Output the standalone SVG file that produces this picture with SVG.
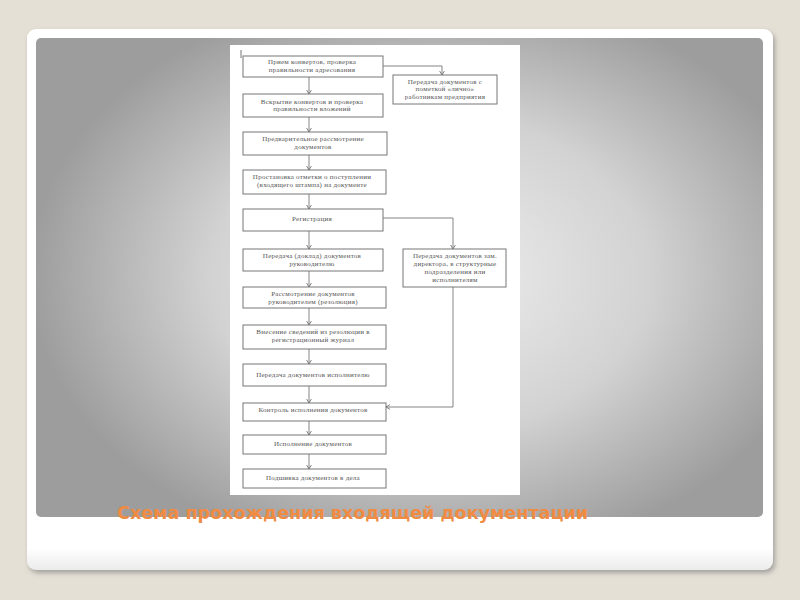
<svg xmlns="http://www.w3.org/2000/svg" width="800" height="600" viewBox="0 0 800 600">
<defs>
<radialGradient id="pg" gradientUnits="userSpaceOnUse" cx="0" cy="0" r="400" gradientTransform="translate(430,275) scale(1,0.72)">
<stop offset="0" stop-color="#efefef"/>
<stop offset="0.55" stop-color="#d2d2d2"/>
<stop offset="1" stop-color="#9d9d9d"/>
</radialGradient>
<linearGradient id="cg" x1="0" y1="0" x2="0" y2="1">
<stop offset="0" stop-color="#ffffff"/>
<stop offset="0.96" stop-color="#ffffff"/>
<stop offset="1" stop-color="#ebebeb"/>
</linearGradient>
<filter id="sh" x="-5%" y="-5%" width="110%" height="115%">
<feDropShadow dx="2" dy="3" stdDeviation="2.5" flood-color="#777" flood-opacity="0.6"/>
</filter>
<marker id="ah" markerUnits="userSpaceOnUse" markerWidth="6" markerHeight="6" refX="4.5" refY="3" orient="auto">
<path d="M0.5,0.6 L4.5,3 L0.5,5.4" fill="none" stroke="#666" stroke-width="0.8"/>
</marker>
<style>
.b{fill:#fff;stroke:#777;stroke-width:1}
.t{font-family:"Liberation Serif","DejaVu Serif",serif;font-size:7px;letter-spacing:0.25px;fill:#555;text-anchor:middle}
.c{fill:none;stroke:#777;stroke-width:0.9;marker-end:url(#ah)}
.title{font-family:"DejaVu Sans","Liberation Sans",sans-serif;font-weight:bold;font-size:17px;fill:#f08b43}
</style>
</defs>
<rect x="0" y="0" width="800" height="600" fill="#e5e0d6"/>
<rect x="27" y="29" width="746" height="541" rx="9" fill="url(#cg)" filter="url(#sh)"/>
<rect x="36" y="38" width="727" height="479" rx="5" fill="url(#pg)"/>
<rect x="230" y="45" width="290" height="450" fill="#ffffff"/>
<line x1="241" y1="50" x2="241" y2="58" stroke="#777" stroke-width="1"/>

<g id="connectors">
<path class="c" d="M309,77 V94"/>
<path class="c" d="M309,117 V132"/>
<path class="c" d="M309,155 V170"/>
<path class="c" d="M309,194 V209"/>
<path class="c" d="M309,231 V249"/>
<path class="c" d="M309,271 V287"/>
<path class="c" d="M309,308 V325"/>
<path class="c" d="M309,349 V364"/>
<path class="c" d="M309,386 V403"/>
<path class="c" d="M309,421 V435"/>
<path class="c" d="M309,454 V469"/>
<path class="c" d="M383,66 H442 V75"/>
<path class="c" d="M383,218 H453 V249"/>
<path class="c" d="M453,287 V407 H386"/>
</g>

<g id="n1"><rect class="b" x="243" y="56" width="140" height="21"/>
<text class="t" x="312" y="64">Прием конвертов, проверка</text>
<text class="t" x="312" y="71.8">правильности адресования</text></g>

<g id="n2"><rect class="b" x="393" y="75" width="104" height="29"/>
<text class="t" x="445" y="83.5">Передача документов с</text>
<text class="t" x="445" y="91.2">пометкой «лично»</text>
<text class="t" x="445" y="99">работникам предприятия</text></g>

<g id="n3"><rect class="b" x="243" y="94" width="140" height="23"/>
<text class="t" x="312" y="103.5">Вскрытие конвертов и проверка</text>
<text class="t" x="312" y="111.3">правильности вложений</text></g>

<g id="n4"><rect class="b" x="243" y="132" width="144" height="23"/>
<text class="t" x="313" y="141">Предварительное рассмотрение</text>
<text class="t" x="313" y="148.8">документов</text></g>

<g id="n5"><rect class="b" x="243" y="170" width="143" height="24"/>
<text class="t" x="312" y="179">Простановка отметки о поступлении</text>
<text class="t" x="312" y="186.8">(входящего штампа) на документе</text></g>

<g id="n6"><rect class="b" x="243" y="209" width="140" height="22"/>
<text class="t" x="312" y="220.5">Регистрация</text></g>

<g id="n7"><rect class="b" x="243" y="249" width="140" height="22"/>
<text class="t" x="312" y="258.2">Передача (доклад) документов</text>
<text class="t" x="312" y="266">руководителю</text></g>

<g id="n8"><rect class="b" x="403" y="249" width="103" height="38"/>
<text class="t" x="455" y="257.5">Передача документов зам.</text>
<text class="t" x="455" y="265.8">директора, в структурные</text>
<text class="t" x="455" y="274.2">подразделения или</text>
<text class="t" x="455" y="282">исполнителям</text></g>

<g id="n9"><rect class="b" x="243" y="287" width="143" height="21"/>
<text class="t" x="313" y="296.2">Рассмотрение документов</text>
<text class="t" x="313" y="304">руководителем (резолюция)</text></g>

<g id="n10"><rect class="b" x="243" y="325" width="143" height="24"/>
<text class="t" x="313" y="334.2">Внесение сведений из резолюции в</text>
<text class="t" x="313" y="342">регистрационный журнал</text></g>

<g id="n11"><rect class="b" x="243" y="364" width="143" height="22"/>
<text class="t" x="313" y="377">Передача документов исполнителю</text></g>

<g id="n12"><rect class="b" x="243" y="403" width="143" height="18"/>
<text class="t" x="313" y="411.5">Контроль исполнения документов</text></g>

<g id="n13"><rect class="b" x="243" y="435" width="143" height="19"/>
<text class="t" x="313" y="445.5">Исполнение документов</text></g>

<g id="n14"><rect class="b" x="243" y="469" width="143" height="19"/>
<text class="t" x="313" y="479.5">Подшивка документов в дела</text></g>

<text class="title" x="117" y="519" textLength="471" lengthAdjust="spacingAndGlyphs">Схема прохождения входящей документации</text>
</svg>
